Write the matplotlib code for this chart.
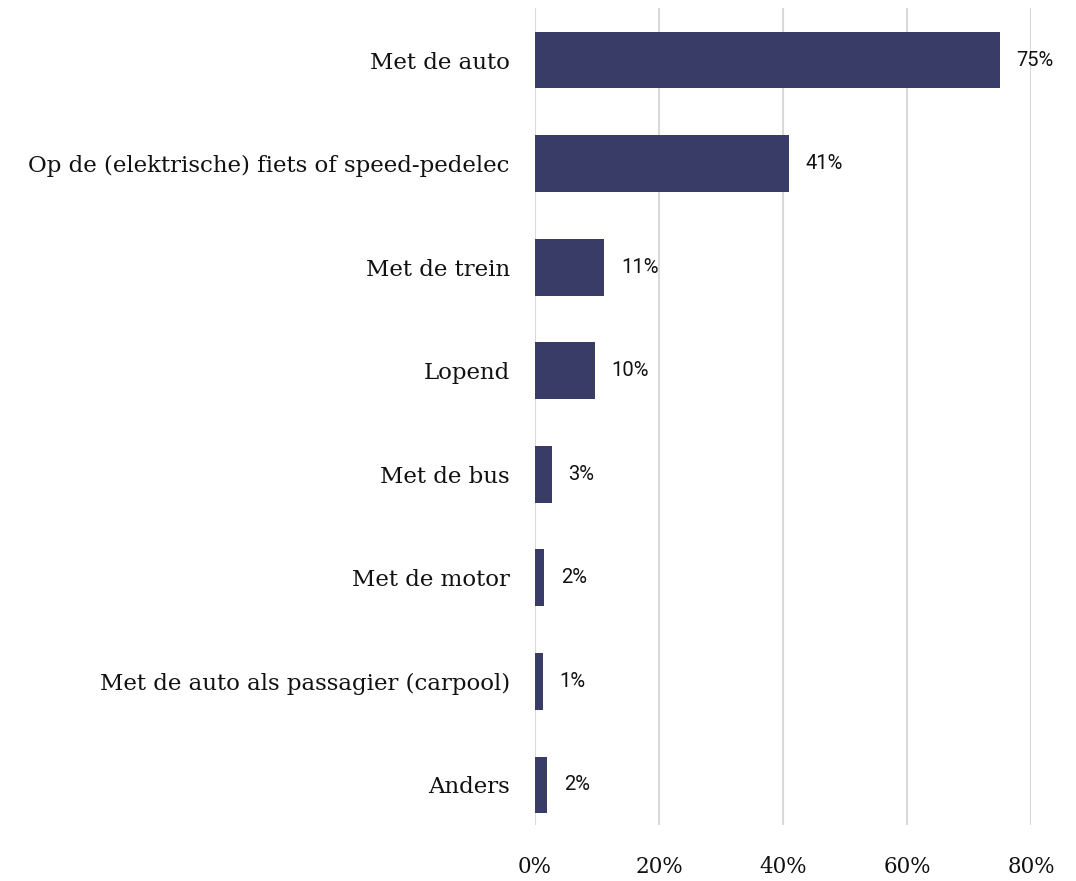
import matplotlib
matplotlib.use("Agg")
import matplotlib.pyplot as plt
import numpy as np

categories = [
    "Met de auto",
    "Op de (elektrische) fiets of speed-pedelec",
    "Met de trein",
    "Lopend",
    "Met de bus",
    "Met de motor",
    "Met de auto als passagier (carpool)",
    "Anders",
]
values = [75.0, 41.0, 11.2, 9.6, 2.7, 1.5, 1.3, 2.0]
value_labels = ["75%", "41%", "11%", "10%", "3%", "2%", "1%", "2%"]
xticks = [0, 20, 40, 60, 80]

bar_color = "#383c66"
grid_color = "#d9d9d9"

fig = plt.figure(figsize=(10.76, 8.81), dpi=100)
ax = fig.add_axes([0.4972, 0.0636, 0.4610, 0.9273])

y = np.arange(len(categories))
ax.barh(y, values, height=0.55, color=bar_color, zorder=2)

for yi, v, lab in zip(y, values, value_labels):
    ax.annotate(lab, xy=(v, yi), xytext=(12, 0), textcoords="offset points",
                ha="left", va="center", fontsize=14.5, family="Roboto",
                color="#111111", zorder=3)

ax.set_xlim(0, 80)
ax.set_ylim(len(categories) - 1 + 0.386, -0.502)
ax.set_xticks(xticks)
ax.set_xticklabels([f"{t}%" for t in xticks], family="DejaVu Serif", fontsize=15.5,
                   color="#111111")
ax.set_yticks(y)
ax.set_yticklabels(categories, family="DejaVu Serif", fontsize=16.5, color="#111111")

ax.tick_params(axis="both", length=0)
ax.tick_params(axis="y", pad=18)
ax.tick_params(axis="x", pad=22)
ax.grid(axis="x", color=grid_color, linewidth=1.5, zorder=0)
for s in ax.spines.values():
    s.set_visible(False)

fig.savefig("out.png", dpi=100)
